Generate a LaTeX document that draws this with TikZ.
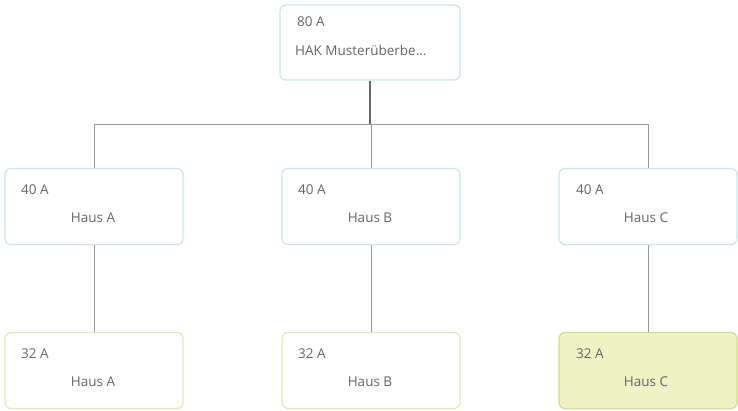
\documentclass[tikz,border=0pt]{standalone}
\usepackage{fontspec}
\setmainfont{Open Sans}
\definecolor{bluebd}{HTML}{C9E6EE}
\definecolor{yelbd}{HTML}{E3E9B4}
\definecolor{selbd}{HTML}{D3DE8C}
\definecolor{selfill}{HTML}{EEF3C6}
\definecolor{txt}{HTML}{666666}
\begin{document}
\begin{tikzpicture}[x=1pt,y=-1pt,
  card/.style={draw=bluebd,line width=1.2pt,rounded corners=6pt,fill=white,minimum width=178pt,minimum height=76pt,inner sep=0pt},
  ycard/.style={card,draw=yelbd},
  scard/.style={card,draw=selbd,fill=selfill},
  lbl/.style={text=txt,font=\fontsize{13.5}{15}\selectfont,inner sep=0pt,anchor=west},
  mid/.style={text=txt,font=\fontsize{13.5}{15}\selectfont,inner sep=0pt},
  wire/.style={draw=black!40,line width=0.9pt}]
\useasboundingbox (0,0) rectangle (738,411);
\node[card,minimum width=180pt,minimum height=75pt] (top) at (370,42.5) {};
\node[card] (ma) at (94,206.5) {};
\node[card] (mb) at (371,206.5) {};
\node[card] (mc) at (648,206.5) {};
\node[ycard] (ba) at (94,370.5) {};
\node[ycard] (bb) at (371,370.5) {};
\node[scard] (bc) at (648,370.5) {};
\coordinate (bus) at (370,124);
\coordinate (busa) at (94,124);
\coordinate (busc) at (648,124);
\draw[draw=black!60,line width=1.6pt] (top.south) -- (bus);
\draw[wire] (busa) -- (busc);
\draw[wire] (busa) -- (ma.north);
\draw[wire] (mb.north|-bus) -- (mb.north);
\draw[wire] (busc) -- (mc.north);
\draw[wire] (ma.south) -- (ba.north);
\draw[wire] (mb.south) -- (bb.north);
\draw[wire] (mc.south) -- (bc.north);
\node[lbl] (t1) at (297,22) {80 A};
\node[lbl] (t2) at (295,50) {HAK Musterüberbe...};
\node[lbl] (a1) at (21,190) {40 A};
\node[mid] (a2) at (93,218) {Haus A};
\node[lbl] (b1) at (298,190) {40 A};
\node[mid] (b2) at (370,218) {Haus B};
\node[lbl] (c1) at (576,190) {40 A};
\node[mid] (c2) at (646,218) {Haus C};
\node[lbl] (d1) at (21,354) {32 A};
\node[mid] (d2) at (93,382) {Haus A};
\node[lbl] (e1) at (298,354) {32 A};
\node[mid] (e2) at (370,382) {Haus B};
\node[lbl] (f1) at (576,354) {32 A};
\node[mid] (f2) at (646,382) {Haus C};
\end{tikzpicture}
\end{document}
